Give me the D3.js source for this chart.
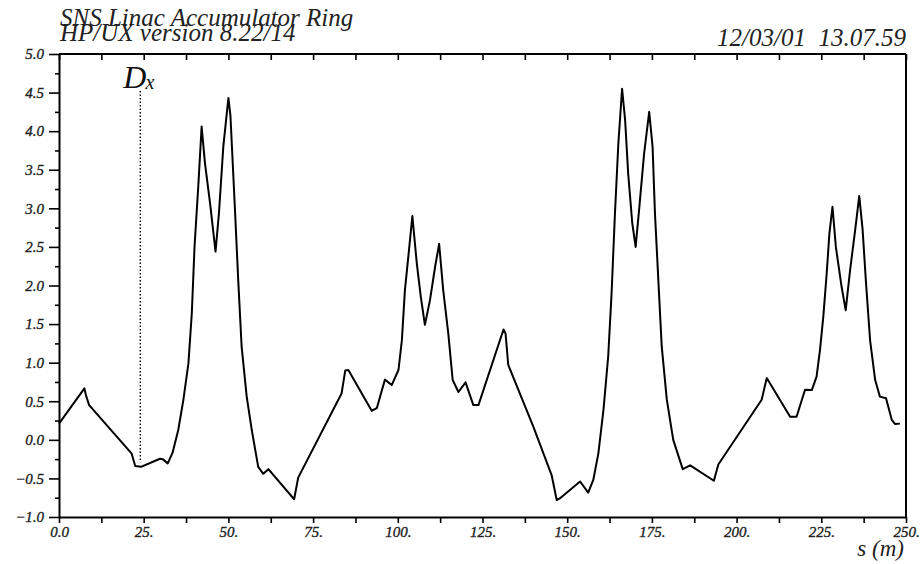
<!DOCTYPE html>
<html>
<head>
<meta charset="utf-8">
<script src="https://cdn.jsdelivr.net/npm/d3@7"></script>
<style>
  html, body { margin: 0; padding: 0; background: #fff; }
  svg { display: block; }
  .serif { font-family: "Liberation Serif", "DejaVu Serif", serif; font-style: italic; }
</style>
</head>
<body>
<svg id="chart" width="922" height="564"></svg>
<script>
// Horizontal dispersion D_x (m) along the ring, s in metres
const sPos = [0, 7.5, 8.0, 8.9, 21.4, 22.5, 24.2, 29.8, 30.6, 32.1, 33.5, 35.2, 36.7, 38.2, 39.2, 40.0,
  41.1, 42.1, 43.1, 44.6, 46.2, 47.2, 48.5, 50.0, 50.6, 51.9, 52.9, 53.9, 55.4, 56.9, 58.8, 60.3, 61.8,
  69.4, 70.6, 83.4, 84.5, 85.4, 92.3, 93.8, 96.2, 98.2, 100.2, 101.2, 102.1, 103.1, 104.3, 105.6, 106.8,
  108.0, 109.5, 111.0, 112.2, 113.4, 114.9, 116.2, 117.9, 120.0, 122.3, 123.8, 131.2, 131.8, 132.6,
  140.0, 145.4, 146.9, 147.8, 153.8, 156.2, 157.7, 159.2, 160.7, 162.1, 163.1, 164.1, 165.1, 166.2,
  167.1, 168.0, 169.2, 170.2, 171.3, 172.7, 174.2, 175.2, 175.9, 176.9, 177.9, 179.4, 181.3, 184.1,
  186.3, 193.3, 194.6, 207.4, 208.9, 215.8, 217.7, 220.2, 222.2, 223.6, 224.6, 225.6, 226.6, 227.4,
  228.3, 229.3, 231.0, 232.2, 233.5, 235.0, 236.2, 237.2, 238.2, 239.4, 240.9, 242.3, 244.1, 245.8,
  246.8, 248.2];
const dispersionX = [0.21, 0.667, 0.57, 0.45, -0.175, -0.34, -0.35, -0.245, -0.25, -0.305, -0.17, 0.127,
  0.515, 0.99, 1.64, 2.50, 3.28, 4.06, 3.58, 3.06, 2.44, 2.93, 3.80, 4.43, 4.20, 3.02, 2.07, 1.21, 0.56,
  0.127, -0.35, -0.44, -0.38, -0.77, -0.49, 0.60, 0.90, 0.905, 0.377, 0.41, 0.78, 0.71, 0.905, 1.29,
  1.94, 2.37, 2.90, 2.29, 1.85, 1.49, 1.81, 2.24, 2.54, 1.94, 1.38, 0.775, 0.62, 0.745, 0.45, 0.45,
  1.43, 1.38, 0.97, 0.17, -0.456, -0.78, -0.76, -0.54, -0.685, -0.52, -0.175, 0.386, 1.08, 1.90, 2.94,
  3.84, 4.55, 4.14, 3.45, 2.81, 2.50, 3.02, 3.71, 4.25, 3.80, 2.94, 2.07, 1.21, 0.52, 0.0, -0.38,
  -0.33, -0.53, -0.32, 0.52, 0.80, 0.30, 0.30, 0.65, 0.645, 0.82, 1.16, 1.60, 2.16, 2.68, 3.02, 2.50,
  1.98, 1.68, 2.20, 2.72, 3.16, 2.72, 2.03, 1.29, 0.775, 0.56, 0.54, 0.26, 0.205, 0.21];

// Axis ticks
const yMajorTicks = [-1.0, -0.5, 0.0, 0.5, 1.0, 1.5, 2.0, 2.5, 3.0, 3.5, 4.0, 4.5, 5.0];
const yMinorTicks = [-0.75, -0.25, 0.25, 0.75, 1.25, 1.75, 2.25, 2.75, 3.25, 3.75, 4.25, 4.75];
const xTicks = [0, 12.5, 25, 37.5, 50, 62.5, 75, 87.5, 100, 112.5, 125, 137.5, 150, 162.5, 175,
  187.5, 200, 212.5, 225, 237.5, 250];
const xTickLabels = { 0: "0.0", 25: "25.", 50: "50.", 75: "75.", 100: "100.", 125: "125.",
  150: "150.", 175: "175.", 200: "200.", 225: "225.", 250: "250." };

// Header and annotation text
const titleLines = ["SNS Linac Accumulator Ring", "HP/UX version 8.22/14"];
const stampText = "12/03/01  13.07.59";
const xAxisTitle = "s (m)";
const markerS = 24;          // position of the D_x marker line
const markerRange = [-0.29, 4.52];

const svg = d3.select("#chart");
const plotL = 59, plotR = 906, plotT = 54, plotB = 517;

const x = d3.scaleLinear().domain([0, 250]).range([plotL, plotR]);
const y = d3.scaleLinear().domain([-1, 5]).range([plotB, plotT]);

// Frame (top and right sides)
svg.append("line").attr("x1", plotL).attr("x2", plotR).attr("y1", plotT).attr("y2", plotT)
  .attr("stroke", "#000").attr("stroke-width", 2);
svg.append("line").attr("x1", plotR).attr("x2", plotR).attr("y1", plotT).attr("y2", plotB)
  .attr("stroke", "#000").attr("stroke-width", 2);

// Left axis: labelled major ticks plus short minor ticks
const yAxis = svg.append("g").attr("transform", `translate(${plotL},0)`)
  .call(d3.axisLeft(y).tickValues(yMajorTicks).tickSize(10).tickSizeOuter(0).tickPadding(4)
    .tickFormat(d3.format(".1f")));
svg.append("g").attr("transform", `translate(${plotL},0)`)
  .call(d3.axisLeft(y).tickValues(yMinorTicks).tickSize(4).tickSizeOuter(0).tickFormat(""))
  .select(".domain").remove();

// Bottom axis
const xAxis = svg.append("g").attr("transform", `translate(0,${plotB})`)
  .call(d3.axisBottom(x).tickValues(xTicks).tickSize(6).tickSizeOuter(0).tickPadding(3)
    .tickFormat(d => xTickLabels[d] || ""));

// Top axis: ticks point into the plot, no labels
svg.append("g").attr("transform", `translate(0,${plotT})`)
  .call(d3.axisTop(x).tickValues(xTicks).tickSize(-6).tickSizeOuter(0).tickFormat(""))
  .select(".domain").remove();

svg.selectAll(".domain").attr("stroke", "#000").attr("stroke-width", 2);
svg.selectAll(".tick line").attr("stroke", "#000").attr("stroke-width", 1.6);
svg.selectAll(".tick text")
  .attr("font-family", null).attr("font-size", null)
  .style("font-family", '"Liberation Serif", serif')
  .style("font-style", "italic")
  .style("font-size", "15px")
  .attr("fill", "#222")
  .attr("stroke", "#222").attr("stroke-width", 0.35);
svg.selectAll("g").attr("font-family", null).attr("font-size", null);
yAxis.selectAll(".tick text").attr("dx", "-1");

// Dispersion curve
const pts = sPos.map((s, i) => [s, dispersionX[i]]);
svg.append("path")
  .datum(pts)
  .attr("fill", "none")
  .attr("stroke", "#000")
  .attr("stroke-width", 2)
  .attr("stroke-linejoin", "round")
  .attr("d", d3.line().x(d => x(d[0])).y(d => y(d[1])));

// Marker line and its label
svg.append("line")
  .attr("x1", x(markerS)).attr("x2", x(markerS))
  .attr("y1", y(markerRange[1])).attr("y2", y(markerRange[0]))
  .attr("stroke", "#000").attr("stroke-width", 1.4).attr("stroke-dasharray", "1.5,2");
const lab = svg.append("text").attr("class", "serif")
  .attr("x", x(markerS) - 17).attr("y", 88).attr("fill", "#111");
lab.append("tspan").style("font-size", "32px").text("D");
lab.append("tspan").style("font-size", "20px").attr("dx", -1).attr("dy", 1).text("x");

// Header lines
svg.append("text").attr("class", "serif").attr("x", 60).attr("y", 26)
  .style("font-size", "25px").attr("fill", "#222").text(titleLines[0]);
svg.append("text").attr("class", "serif").attr("x", 60).attr("y", 41)
  .style("font-size", "25px").attr("fill", "#222").text(titleLines[1]);
svg.append("text").attr("class", "serif").attr("x", plotR).attr("y", 46)
  .attr("text-anchor", "end").style("font-size", "25px").attr("fill", "#222")
  .style("white-space", "pre").attr("xml:space", "preserve").text(stampText);

// Axis title
svg.append("text").attr("class", "serif").attr("x", 904).attr("y", 556)
  .attr("text-anchor", "end").style("font-size", "23px").attr("fill", "#222").text(xAxisTitle);
</script>
</body>
</html>
